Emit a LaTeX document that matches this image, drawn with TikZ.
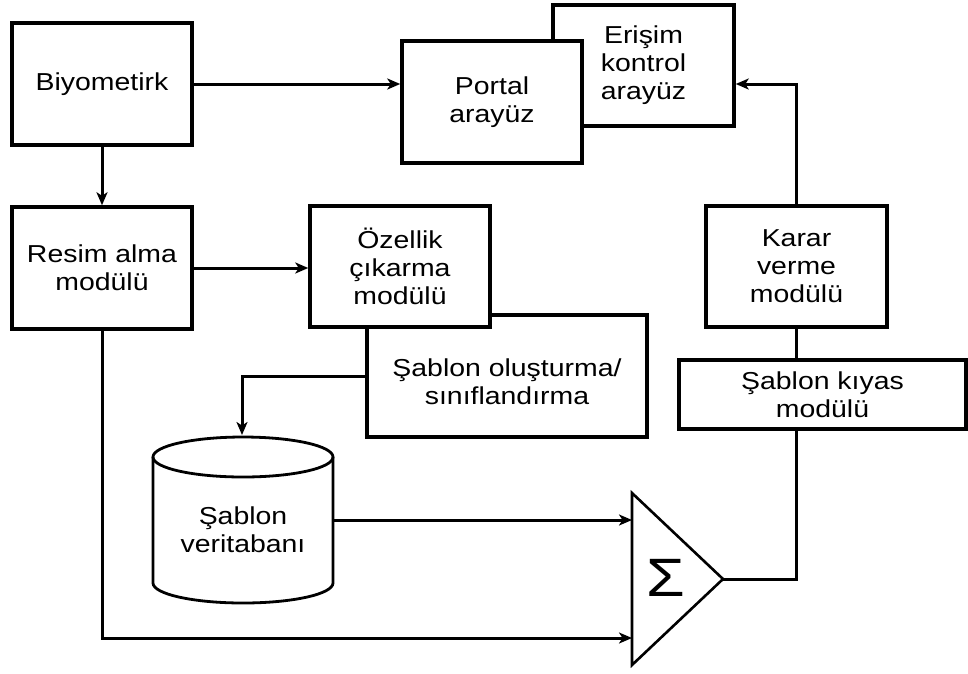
\documentclass[tikz,border=0pt]{standalone}
\usepackage{fontspec}
\setmainfont{Liberation Sans}[FakeStretch=1.16]
\usetikzlibrary{arrows.meta}
\begin{document}
\begin{tikzpicture}[x=1pt,y=-1pt,
  box/.style={draw, line width=3.5pt, fill=white, inner sep=0pt, align=center,
    font=\fontsize{24.5}{28}\selectfont},
  txt/.style={align=center, inner sep=0pt, font=\fontsize{24.5}{28}\selectfont},
  conn/.style={line width=3pt},
  arr/.style={conn, -{Stealth[length=13pt,width=11pt,inset=3.5pt]}}]
\useasboundingbox (0,0) rectangle (968,673);

% boxes
\node[box, minimum width=181pt, minimum height=121pt] (eris) at (643.5,65.5) {Erişim\\kontrol\\arayüz};
\node[box, minimum width=180pt, minimum height=122pt] (portal) at (492,102) {Portal\\arayüz};
\node[box, minimum width=180pt, minimum height=122pt] (bio) at (102,84) {Biyometirk};
\node[box, minimum width=180pt, minimum height=122pt] (resim) at (102,268) {Resim alma\\modülü};
\node[box, minimum width=280pt, minimum height=122pt] (sablon) at (507,376) {};
\node[txt] (sablontext) at (507,382) {Şablon oluşturma/\\sınıflandırma};
\node[box, minimum width=180pt, minimum height=121pt] (ozel) at (400,266.5) {Özellik\\çıkarma\\modülü};
\node[box, minimum width=181pt, minimum height=121pt] (karar) at (796.5,266.5) {Karar\\verme\\modülü};
\node[box, minimum width=287pt, minimum height=69pt] (kiyas) at (822.5,394.5) {Şablon kıyas\\modülü};

% database cylinder
\draw[line width=2.8pt, fill=white] (153,457) -- (153,583)
  arc[start angle=180, end angle=0, x radius=90, y radius=20] -- (333,457);
\draw[line width=2.8pt] (243,457) ellipse [x radius=90, y radius=20];
\node[txt] (db) at (243,530) {Şablon\\veritabanı};
\coordinate (dbtop) at (242,435);
\coordinate (dbright) at (333,520);

% summing triangle
\coordinate (sigA) at (632,493);
\coordinate (sigB) at (632,665);
\coordinate (sigout) at (723,579);
\draw[line width=2.6pt, line join=miter] (sigA) -- (sigout) -- (sigB) -- cycle;
\node[inner sep=0pt, font=\fontsize{54}{54}\selectfont] (sigma) at (666,578) {Σ};
\coordinate (sig1) at (632,520);
\coordinate (sig2) at (632,638);

% connectors
\draw[arr] (bio.east) -- (bio.east -| portal.west);
\draw[arr] (bio.south) -- (resim.north);
\draw[arr] (resim.east) -- (resim.east -| ozel.west);
\draw[arr] (sablon.west) -| (dbtop);
\draw[arr] (dbright) -- (sig1);
\draw[arr] (resim.south) |- (sig2);
\draw[conn] (sigout) -| (kiyas.south -| karar.south);
\draw[conn] (kiyas.north -| karar.south) -- (karar.south);
\draw[arr] (karar.north) |- (eris.east |- bio.east);
\end{tikzpicture}
\end{document}
